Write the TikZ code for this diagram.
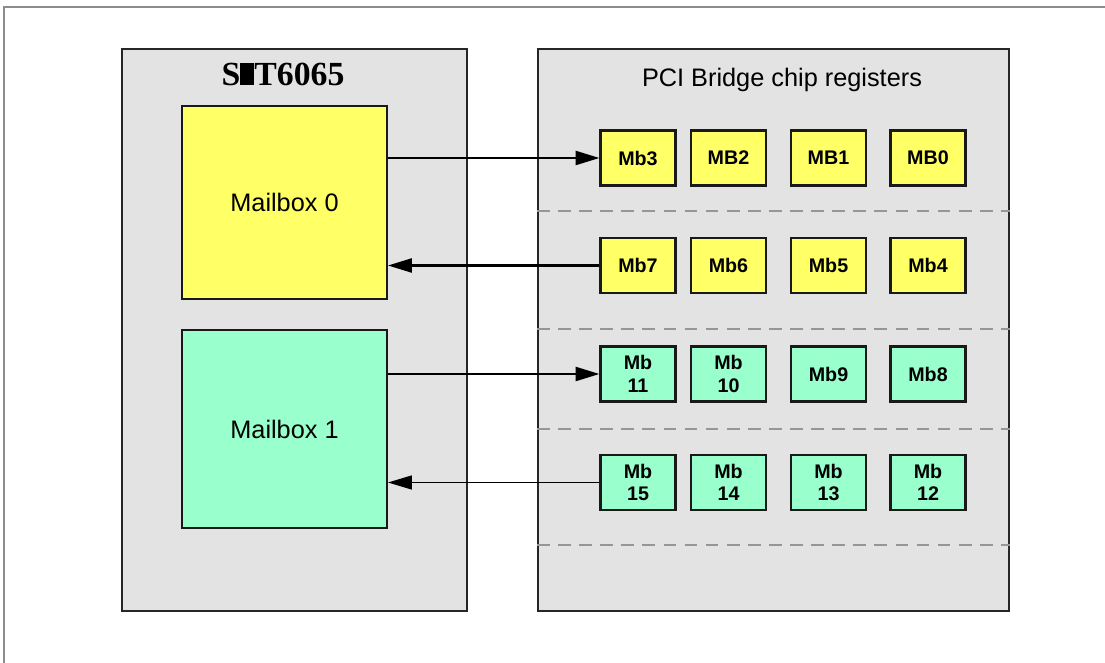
\documentclass[tikz,border=0pt]{standalone}
\usepackage{fontspec}
\setmainfont{Liberation Sans}
\newfontfamily\chipfont{Liberation Serif}
\usetikzlibrary{positioning, arrows.meta}
\definecolor{panelgray}{RGB}{227, 227, 227}
\definecolor{mbyellow}{RGB}{255, 255, 102}
\definecolor{mbgreen}{RGB}{153, 255, 204}
\definecolor{framegray}{RGB}{140, 140, 140}
\definecolor{rulegray}{RGB}{150, 150, 150}

\begin{document}
\begin{tikzpicture}[x=0.025cm, y=-0.025cm, >={Triangle[length=17pt, width=10pt]},
  panel/.style={draw=black!85, line width=1.4pt, fill=panelgray, anchor=north west,
                inner sep=0pt, minimum height=14.05cm},
  mailbox/.style={draw=black!90, line width=1.4pt, anchor=north west, inner sep=0pt,
                  minimum width=5.125cm, font=\fontsize{18}{21}\selectfont},
  reg/.style={draw=black!90, line width=1.5pt, minimum width=1.875cm, minimum height=1.375cm,
              inner sep=0pt, align=center, font=\fontsize{14}{16}\selectfont\bfseries},
  link/.style={->, line width=1.6pt}]
  \useasboundingbox (0,0) rectangle (1105,663);

  % page frame, only top and left edges visible
  \draw[framegray, line width=1.5pt] (1105,7) -- (4,7) -- (4,663);

  % the two panels
  \node[panel, minimum width=8.625cm] (host) at (121,48) {};
  \node[panel, minimum width=11.775cm] (pci) at (537,48) {};

  \node[font=\chipfont\fontsize{24}{26}\selectfont\bfseries] (chip) at (283,74)
    {S\rule{0.42em}{0.66em}T6065};
  \node[font=\fontsize{18}{21}\selectfont] (pcititle) at (782,80) {PCI Bridge chip registers};

  % mailboxes on the host side
  \node[mailbox, fill=mbyellow, minimum height=4.825cm] (mb0) at (181,105) {Mailbox 0};
  \node[mailbox, fill=mbgreen, minimum height=4.95cm] (mb1) at (181,329) {Mailbox 1};

  % dashed row separators
  \foreach \y in {211, 329, 429, 545}
    \draw[rulegray, dashed, dash pattern=on 9pt off 6pt, line width=0.9pt]
      (pci.west |- 0,\y) -- (pci.east |- 0,\y);

  % register boxes
  \foreach \name/\lab/\x/\y/\col in {
      r3/Mb3/638/158/mbyellow, r2/MB2/728.5/158/mbyellow,
      r1/MB1/828.5/158/mbyellow, r0/MB0/928/158/mbyellow,
      r7/Mb7/638/265.5/mbyellow, r6/Mb6/728.5/265.5/mbyellow,
      r5/Mb5/828.5/265.5/mbyellow, r4/Mb4/928/265.5/mbyellow,
      r11/{Mb\\11}/638/374/mbgreen, r10/{Mb\\10}/728.5/374/mbgreen,
      r9/Mb9/828.5/374/mbgreen, r8/Mb8/928/374/mbgreen,
      r15/{Mb\\15}/638/482.5/mbgreen, r14/{Mb\\14}/728.5/482.5/mbgreen,
      r13/{Mb\\13}/828.5/482.5/mbgreen, r12/{Mb\\12}/928/482.5/mbgreen}
    \node[reg, fill=\col] (\name) at (\x,\y) {\lab};

  % mailbox traffic
  \draw[link] (mb0.east |- r3.west) -- (r3.west);
  \draw[link] (r7.west) -- (mb0.east |- r7.west);
  \draw[link] (mb1.east |- r11.west) -- (r11.west);
  \draw[link, line width=0.9pt] (r15.west) -- (mb1.east |- r15.west);
\end{tikzpicture}
\end{document}
